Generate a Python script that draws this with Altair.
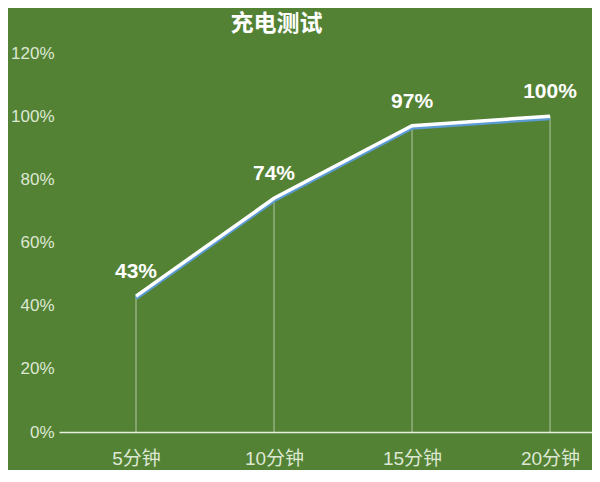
import json
import altair as alt
import pandas as pd

categories = ["5分钟", "10分钟", "15分钟", "20分钟"]
charge = [43, 74, 97, 100]
y_ticks = [0, 20, 40, 60, 80, 100, 120]

df = pd.DataFrame({
    "idx": list(range(len(categories))),
    "cat": categories,
    "pct": [v / 100 for v in charge],
    "label": [f"{v}%" for v in charge],
})

FONT = "Helvetica, 'Liberation Sans', 'Noto Sans CJK SC', sans-serif"
BG = "#548235"
AXIS_TXT = "#dde8d3"

label_expr = json.dumps(categories, ensure_ascii=False) + "[datum.value]"

x = alt.X(
    "idx:Q",
    scale=alt.Scale(domain=[-0.558, 3.304], nice=False, zero=False),
    axis=alt.Axis(
        values=list(range(len(categories))), labelExpr=label_expr, title=None,
        grid=False, ticks=False, domainColor="#e6eedd", domainWidth=1.5,
        labelColor=AXIS_TXT, labelFontSize=19, labelPadding=17, labelFont=FONT,
    ),
)
y = alt.Y(
    "pct:Q",
    scale=alt.Scale(domain=[0, 1.2], nice=False),
    axis=alt.Axis(
        values=[t / 100 for t in y_ticks], format=".0%", title=None,
        grid=False, ticks=False, domain=False,
        labelColor=AXIS_TXT, labelFontSize=17, labelPadding=5, labelFont=FONT,
    ),
)

base = alt.Chart(df)

drops = base.mark_rule(color="#ffffff", strokeWidth=1, opacity=0.55).encode(
    x=x, y=y, y2=alt.datum(0)
)
shadow = base.mark_line(color="#5b9bd5", strokeWidth=4, yOffset=2).encode(x=x, y=y)
line = base.mark_line(color="#ffffff", strokeWidth=3.5).encode(x=x, y=y)
labels = base.mark_text(
    color="#ffffff", fontSize=21, fontWeight="bold", dy=-24, baseline="middle", font=FONT
).encode(x=x, y=y, text="label:N")

chart = (
    alt.layer(drops, shadow, line, labels)
    .properties(
        width=533,
        height=379,
        padding={"left": 51, "top": 45, "right": 0, "bottom": 38},
        autosize=alt.AutoSizeParams(type="none"),
        background=BG,
        title=alt.TitleParams(
            "充电测试", color="#ffffff", fontSize=23, fontWeight="bold",
            font=FONT, anchor="middle", dx=-49, offset=8,
        ),
    )
    .configure_view(stroke=None)
)

chart.save("out.html", embed_options={"renderer": "svg", "actions": False})
